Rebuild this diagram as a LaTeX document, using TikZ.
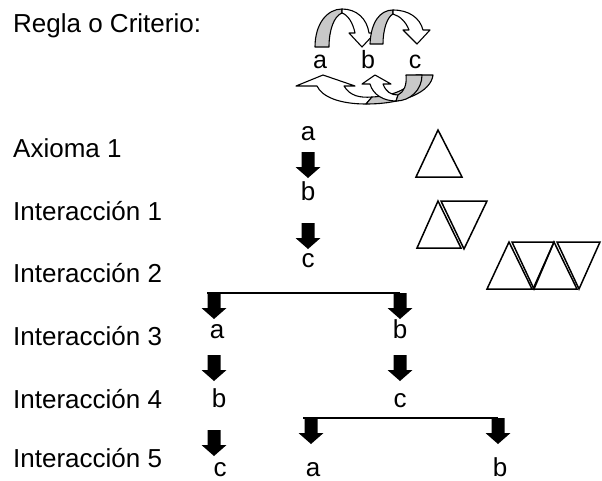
\documentclass[tikz,border=0pt]{standalone}
\usepackage{fontspec}
\setmainfont{Liberation Sans}
\definecolor{grisflecha}{RGB}{200,200,200}
\tikzset{
  etiqueta/.style={anchor=base west, inner sep=0pt, font=\fontsize{26}{30}\selectfont},
  letra/.style={anchor=base, inner sep=0pt, font=\fontsize{26}{30}\selectfont},
  letraregla/.style={anchor=base, inner sep=0pt, font=\fontsize{25}{28}\selectfont},
  triangulo/.style={draw, line width=1.5pt, line join=miter},
  rama/.style={line width=1.8pt},
  curva/.style={draw, line width=1.1pt, line join=round},
  flecha/.pic={
    \fill (-6.5,0) -- (6.5,0) -- (6.5,15) -- (12.5,15) -- (0,26) -- (-12.5,15) -- (-6.5,15) -- cycle;
    \coordinate (-top) at (0,0);
  }
}
\begin{document}
\begin{tikzpicture}[x=1pt, y=-1pt]
    \useasboundingbox (0,0) rectangle (602,480);

    % Etiquetas de la izquierda
    \node[etiqueta] (regla) at (13,32) {Regla o Criterio:};
    \node[etiqueta] (axioma) at (13,157) {Axioma 1};
    \node[etiqueta] (int1) at (13,220) {Interacción 1};
    \node[etiqueta] (int2) at (13,282) {Interacción 2};
    \node[etiqueta] (int3) at (13,345) {Interacción 3};
    \node[etiqueta] (int4) at (13,408) {Interacción 4};
    \node[etiqueta] (int5) at (13,467) {Interacción 5};

    % Regla: letras
    \node[letraregla] (ra) at (320,68) {a};
    \node[letraregla] (rb) at (368,68) {b};
    \node[letraregla] (rc) at (415,68) {c};

    % Regla: flechas curvas de arriba (a -> b, b -> c)
    \filldraw[curva, fill=grisflecha] (315,47) .. controls (315,24) and (327,9) .. (342,9) -- (342,13) .. controls (334,16) and (329,30) .. (329,47) -- cycle;
    \filldraw[curva, fill=white] (342,9) .. controls (357,9) and (367,19) .. (369,33) -- (375,33) -- (362,47) -- (349,33) -- (355,33) .. controls (353,23) and (348,15) .. (342,13) -- cycle;
    \filldraw[curva, fill=grisflecha] (370,44) .. controls (371,22) and (380,10) .. (393,10) -- (393,14) .. controls (387,17) and (383,30) .. (383,44) -- cycle;
    \filldraw[curva, fill=white] (393,10) .. controls (409,10) and (420,18) .. (423,30) -- (430,30) -- (417,44) -- (403,30) -- (409,30) .. controls (406,22) and (400,16) .. (393,14) -- cycle;

    % Regla: flechas curvas de abajo (c -> a, c -> b)
    \filldraw[curva, fill=white] (296,86) -- (323,75) -- (355,86) -- (344,86) .. controls (350,96) and (360,98) .. (372,97) -- (366,104) .. controls (340,104) and (322,97) .. (317,86) -- cycle;
    \filldraw[curva, fill=grisflecha] (372,97) .. controls (394,96) and (412,88) .. (416,75) -- (433,75) .. controls (431,92) and (404,104) .. (366,104) -- cycle;
    \filldraw[curva, fill=white] (362,84) -- (375,75) -- (391,84) -- (383,84) .. controls (386,92) and (391,95) .. (398,95) -- (396,101) .. controls (384,101) and (373,95) .. (370,84) -- cycle;
    \filldraw[curva, fill=grisflecha] (398,95) .. controls (404,92) and (407,85) .. (406,75) -- (422,75) .. controls (422,90) and (410,101) .. (396,101) -- cycle;

    % Tronco: a, b, c
    \node[letra] (a0) at (308,140) {a};
    \pic (f1) at (308,152) {flecha};
    \node[letra] (b0) at (308,200) {b};
    \pic (f2) at (308,223) {flecha};
    \node[letra] (c0) at (308,267) {c};

    % Primera bifurcacion
    \pic (f3) at (214,293) {flecha};
    \pic (f4) at (400,293) {flecha};
    \draw[rama] ([xshift=-7pt]f3-top) -- (f4-top);

    % Rama izquierda
    \node[letra] (a1) at (217,338) {a};
    \pic (f5) at (214,355) {flecha};
    \node[letra] (b1) at (219,407) {b};
    \pic (f6) at (214,430) {flecha};
    \node[letra] (c1) at (220,476) {c};

    % Rama derecha
    \node[letra] (b2) at (400,338) {b};
    \pic (f7) at (400,355) {flecha};
    \node[letra] (c2) at (400,407) {c};

    % Segunda bifurcacion
    \pic (f8) at (311,418) {flecha};
    \pic (f9) at (498,418) {flecha};
    \draw[rama] ([xshift=-8pt]f8-top) -- (f9-top);
    \node[letra] (a3) at (313,476) {a};
    \node[letra] (b3) at (500,476) {b};

    % Triangulos
    \draw[triangulo] (438,130) -- (416,177) -- (462,177) -- cycle;

    \draw[triangulo] (438,201) -- (417,248) -- (461,248) -- cycle;
    \draw[triangulo] (441,201) -- (487,201) -- (464,249) -- cycle;

    \draw[triangulo] (509,242) -- (487,289) -- (532,289) -- cycle;
    \draw[triangulo] (512,242) -- (554,242) -- (534,289) -- cycle;
    \draw[triangulo] (554,242) -- (533,289) -- (577,289) -- cycle;
    \draw[triangulo] (557,242) -- (600,242) -- (579,289) -- cycle;
\end{tikzpicture}
\end{document}
